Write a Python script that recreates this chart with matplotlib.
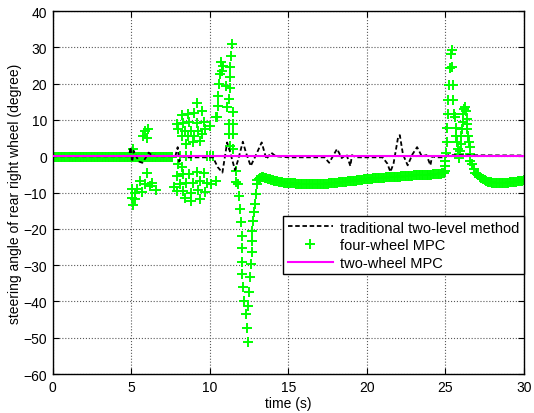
"""
Rear right wheel steering angle: two-level method vs four-wheel / two-wheel MPC
"""
import numpy as np
import matplotlib
matplotlib.use('Agg')
import matplotlib.pyplot as plt

plt.rcParams['font.family'] = ['Liberation Sans', 'DejaVu Sans']
plt.rcParams['font.size'] = 10

# traditional two-level method (black dashed)
t_trad = [0, 4.85, 4.95, 5.05, 5.15, 5.3, 5.5, 5.7, 5.9, 6.1, 6.3, 6.6,
          7.8, 7.95, 8.05, 8.2, 8.5, 10.2, 10.5, 10.8, 11.1, 11.3, 11.6,
          11.8, 12.1, 12.3, 12.6, 12.9, 13.3, 13.6, 13.9, 14.2, 15.0,
          17.3, 17.6, 17.9, 18.1, 18.4, 18.7, 18.95, 19.05, 19.3, 21.0,
          21.3, 21.5, 21.7, 22.0, 22.1, 22.3, 22.6, 22.9, 23.2, 23.5,
          23.8, 24.05, 24.15, 24.4, 24.8, 25.2, 30.0]
d_trad = [0, 0, 2.5, -1.5, 1.5, 0, -1.5, -1.8, -0.5, 1.0, 0.3, 0,
          0, 2.5, -1.5, 0, -0.3, -0.3, -3.0, -4.5, 3.8, 1.0, -3.8,
          -1.0, 4.0, 1.0, -2.7, 0, 3.8, -0.8, 1.0, 0, -0.3,
          -0.3, -1.8, 0.5, 2.0, -0.5, 0.5, -2.7, 0.3, -0.3, -0.3,
          -2.0, -4.3, -2.0, 5.5, 5.8, 0.5, -2.5, 0.5, 2.5, 0,
          0.3, -2.5, 0, -0.3, -0.3, 0.3, 0.2]

# two-wheel MPC (magenta)
t_two = [0, 30]
d_two = [0.2, 0.2]

# four-wheel MPC (green +), read in pieces
# flat start 0-7.6 s
t_4w_start = [0.0, 0.1, 0.2, 0.3, 0.4, 0.5, 0.6, 0.7, 0.8, 0.9,
              1.0, 1.1, 1.2, 1.3, 1.4, 1.5, 1.6, 1.7, 1.8, 1.9,
              2.0, 2.1, 2.2, 2.3, 2.4, 2.5, 2.6, 2.7, 2.8, 2.9,
              3.0, 3.1, 3.2, 3.3, 3.4, 3.5, 3.6, 3.7, 3.8, 3.9,
              4.0, 4.1, 4.2, 4.3, 4.4, 4.5, 4.6, 4.7, 4.8, 4.9,
              5.0, 5.1, 5.2, 5.3, 5.4, 5.5, 5.6, 5.7, 5.8, 5.9,
              6.0, 6.1, 6.2, 6.3, 6.4, 6.5, 6.6, 6.7, 6.8, 6.9,
              7.0, 7.1, 7.2, 7.3, 7.4, 7.5, 7.6,
              8.1, 8.5, 8.8, 9.8, 10.0, 10.2]
d_4w_start = [-0.2, -0.2, -0.2, -0.2, -0.2, -0.2, -0.2, -0.2, -0.2, -0.2,
              -0.2, -0.2, -0.2, -0.2, -0.2, -0.2, -0.2, -0.2, -0.2, -0.2,
              -0.2, -0.2, -0.2, -0.2, -0.2, -0.2, -0.2, -0.2, -0.2, -0.2,
              -0.2, -0.2, -0.2, -0.2, -0.2, -0.2, -0.2, -0.2, -0.2, -0.2,
              -0.2, -0.2, -0.2, -0.2, -0.2, -0.2, -0.2, -0.2, -0.2, -0.2,
              -0.2, -0.2, -0.2, -0.2, -0.2, -0.2, -0.2, -0.2, -0.2, -0.2,
              -0.2, -0.2, -0.2, -0.2, -0.2, -0.2, -0.2, -0.2, -0.2, -0.2,
              -0.2, -0.2, -0.2, -0.2, -0.2, -0.2, -0.2,
              0.0, 0.0, 0.0, 0.0, 0.0, 0.0]

# oscillation 5-7 s
t_4w_osc1 = [5.1, 5.86, 6.07, 5.75, 5.97, 5.97, 5.54, 5.86, 6.29, 6.18,
             6.6, 5.01, 5.33, 5.22, 5.65, 5.01, 5.22, 5.11]
d_4w_osc1 = [2.0, 7.0, 7.4, 5.6, 5.1, -4.7, -6.8, -7.7, -7.3, -8.2,
             -9.3, -9.1, -8.9, -10.0, -9.8, -11.4, -11.8, -13.5]

# oscillation 8-10.5 s
t_4w_osc2 = [9.15, 8.2, 8.6, 9.0, 9.5, 7.9, 8.3, 8.7, 9.15, 9.6, 10.0, 10.4,
             8.0, 8.4, 8.8, 9.25, 9.7, 8.2, 8.6, 9.0, 9.5, 8.5, 8.9, 9.4,
             8.0, 8.2, 7.9, 8.3, 8.7, 9.15, 9.6, 7.7, 8.1, 8.5, 8.9, 9.4,
             9.8, 7.9, 8.3, 8.8, 9.25, 9.7, 8.4, 8.8, 9.4, 10.1, 10.4]
d_4w_osc2 = [14.6, 11.3, 11.6, 12.0, 12.5, 8.8, 9.1, 9.3, 9.1, 9.5, 8.3, 10.7,
             7.4, 7.0, 7.0, 7.0, 7.4, 5.6, 5.6, 5.6, 6.1, 3.3, 3.8, 4.2,
             -2.2, -3.1, -5.4, -5.0, -5.0, -4.3, -4.5, -8.4, -7.7, -7.3,
             -7.3, -6.8, -7.3, -9.6, -9.6, -10.0, -9.3, -9.8, -11.4,
             -12.3, -11.8, -7.7, -6.8]

# big spike 10.5-13 s
t_4w_spike = [10.45, 10.5, 10.55, 10.6, 10.65, 10.7, 10.75, 10.85, 11.05,
              11.1, 11.2, 11.25, 11.3, 11.35, 11.4,
              11.3, 11.3, 11.3, 11.25, 11.45, 11.5, 11.5, 11.5, 11.65,
              11.65, 11.78, 11.85, 11.9, 11.96, 12.02, 12.04, 12.04, 12.04,
              12.1, 12.17, 12.3, 12.34, 12.42,
              12.42, 12.48, 12.55, 12.59, 12.66, 12.66, 12.68, 12.74, 12.8,
              12.87, 12.93, 12.99]
d_4w_spike = [10.7, 13.9, 16.6, 19.8, 22.6, 25.9, 23.5, 24.9, 19.3,
              13.5, 8.8, 6.1, 2.8, 27.5, 31.0,
              24.5, 21.8, 18.7, 15.7, 12.1, 8.8, 6.0, 1.9, -4.1,
              -7.2, -7.7, -11.0, -14.6, -18.1, -22.0, -25.3, -29.2, -32.5,
              -36.1, -39.9, -43.5, -47.4, -51.2,
              -41.3, -37.5, -33.3, -29.8, -26.4, -23.3, -20.6, -17.8, -15.4,
              -13.2, -10.5, -7.7]

# slow drift 13-25 s
t_4w_mid = [13.0, 13.1, 13.2, 13.3, 13.4, 13.5, 13.6, 13.7, 13.8, 13.9,
            14.0, 14.1, 14.2, 14.3, 14.4, 14.5, 14.6, 14.7, 14.8, 14.9,
            15.0, 15.1, 15.2, 15.3, 15.4, 15.5, 15.6, 15.7, 15.8, 15.9,
            16.0, 16.1, 16.2, 16.3, 16.4, 16.5, 16.6, 16.7, 16.8, 16.9,
            17.0, 17.1, 17.2, 17.3, 17.4, 17.5, 17.6, 17.7, 17.8, 17.9,
            18.0, 18.1, 18.2, 18.3, 18.4, 18.5, 18.6, 18.7, 18.8, 18.9,
            19.0, 19.1, 19.2, 19.3, 19.4, 19.5, 19.6, 19.7, 19.8, 19.9,
            20.0, 20.1, 20.2, 20.3, 20.4, 20.5, 20.6, 20.7, 20.8, 20.9,
            21.0, 21.1, 21.2, 21.3, 21.4, 21.5, 21.6, 21.7, 21.8, 21.9,
            22.0, 22.1, 22.2, 22.3, 22.4, 22.5, 22.6, 22.7, 22.8, 22.9,
            23.0, 23.1, 23.2, 23.3, 23.4, 23.5, 23.6, 23.7, 23.8, 23.9,
            24.0, 24.1, 24.2, 24.3, 24.4, 24.5, 24.6, 24.7, 24.8, 24.9,
            25.0]
d_4w_mid = [-6.6, -6.2, -5.9, -5.8, -5.8, -5.9, -6.0, -6.2, -6.3, -6.5,
            -6.6, -6.7, -6.8, -6.9, -7.0, -7.1, -7.2, -7.3, -7.3, -7.4,
            -7.4, -7.5, -7.5, -7.5, -7.5, -7.6, -7.6, -7.6, -7.6, -7.6,
            -7.6, -7.7, -7.7, -7.7, -7.7, -7.7, -7.7, -7.7, -7.7, -7.7,
            -7.7, -7.7, -7.6, -7.6, -7.6, -7.6, -7.5, -7.5, -7.4, -7.4,
            -7.3, -7.3, -7.2, -7.2, -7.1, -7.1, -7.0, -7.0, -6.9, -6.9,
            -6.8, -6.8, -6.7, -6.7, -6.6, -6.6, -6.5, -6.5, -6.4, -6.4,
            -6.3, -6.3, -6.2, -6.2, -6.1, -6.1, -6.0, -6.0, -6.0, -6.0,
            -5.9, -5.9, -5.8, -5.8, -5.8, -5.8, -5.7, -5.7, -5.6, -5.6,
            -5.6, -5.6, -5.5, -5.5, -5.5, -5.5, -5.4, -5.4, -5.4, -5.4,
            -5.3, -5.3, -5.3, -5.3, -5.2, -5.2, -5.2, -5.2, -5.1, -5.1,
            -5.1, -5.1, -5.0, -5.0, -5.0, -5.0, -4.9, -4.9, -4.7, -4.5,
            -4.0]

# double peak 25-27 s
t_4w_peak = [25.0, 25.0, 25.05, 25.1, 25.1, 25.15, 25.2, 25.25, 25.3, 25.35,
             25.4, 25.45, 25.5, 25.5, 25.55, 25.6, 25.65, 25.7, 25.75, 25.8,
             25.85, 25.9, 25.95, 26.0, 26.0, 26.05, 26.1, 26.15, 26.2, 26.25,
             26.3, 26.35, 26.35, 26.4, 26.45, 26.5, 26.55, 26.55, 26.6, 26.7,
             26.8]
d_4w_peak = [-2.7, -1.3, 1.0, 4.0, 7.7, 11.6, 15.5, 19.6, 24.2, 28.1,
             29.3, 24.5, 19.6, 15.5, 11.6, 10.7, 7.7, 5.6, 3.8, 2.0,
             0.5, -0.5, 1.5, 3.5, 5.5, 7.5, 9.5, 11.5, 13.0, 13.6,
             12.5, 10.2, 8.8, 7.4, 5.6, 3.8, 2.5, 0.5, -1.3, -2.2,
             -3.6]

# settling tail
t_4w_tail = [26.9, 27.0, 27.1, 27.2, 27.3, 27.4, 27.5, 27.6, 27.7, 27.8,
             27.9, 28.0, 28.1, 28.2, 28.3, 28.4, 28.5, 28.6, 28.7, 28.8,
             28.9, 29.0, 29.1, 29.2, 29.3, 29.4, 29.5, 29.6, 29.7, 29.8,
             29.9, 30.0]
d_4w_tail = [-4.5, -5.0, -5.3, -5.6, -6.0, -6.3, -6.6, -6.8, -7.0, -7.1,
             -7.2, -7.3, -7.3, -7.4, -7.4, -7.4, -7.4, -7.4, -7.4, -7.4,
             -7.3, -7.3, -7.2, -7.2, -7.1, -7.0, -7.0, -6.9, -6.9, -6.8,
             -6.7, -6.6]

t_4w = t_4w_start + t_4w_osc1 + t_4w_osc2 + t_4w_spike + t_4w_mid + t_4w_peak + t_4w_tail
d_4w = d_4w_start + d_4w_osc1 + d_4w_osc2 + d_4w_spike + d_4w_mid + d_4w_peak + d_4w_tail

fig = plt.figure(figsize=(5.34, 4.14), dpi=100)
ax = fig.add_axes([0.099, 0.094, 0.882, 0.877])

h_4w, = ax.plot(t_4w, d_4w, linestyle='none', marker='+', color=(0, 1, 0),
                markersize=7, markeredgewidth=1.4, label='four-wheel MPC', zorder=2)
h_trad, = ax.plot(t_trad, d_trad, color='k', linestyle=(0, (2.5, 1.5)),
                  linewidth=1.3, label='traditional two-level method', zorder=3)
h_two, = ax.plot(t_two, d_two, color=(1, 0, 1), linewidth=1.5,
                 label='two-wheel MPC', zorder=4)

ax.set_xlim(0, 30)
ax.set_ylim(-60, 40)
ax.set_xticks(np.arange(0, 31, 5))
ax.set_yticks(np.arange(-60, 41, 10))
ax.grid(True, linestyle=':', color='0.35', linewidth=0.8)
ax.tick_params(direction='in', top=True, right=True, length=4, width=0.8,
               labelsize=10, pad=4)
for s in ax.spines.values():
    s.set_linewidth(1.0)

ax.set_xlabel('time (s)', fontsize=10, labelpad=2)
ax.set_ylabel('steering angle of rear right wheel (degree)', fontsize=10, labelpad=1)

leg = ax.legend(handles=[h_trad, h_4w, h_two], loc='upper right',
                bbox_to_anchor=(1.0, 0.435), borderaxespad=0, fancybox=False,
                edgecolor='k', framealpha=1, fontsize=10.5, handlelength=3.1,
                labelspacing=0.25, borderpad=0.3, handletextpad=0.5)
leg.get_frame().set_linewidth(1.0)

fig.savefig('out.png', dpi=100)
